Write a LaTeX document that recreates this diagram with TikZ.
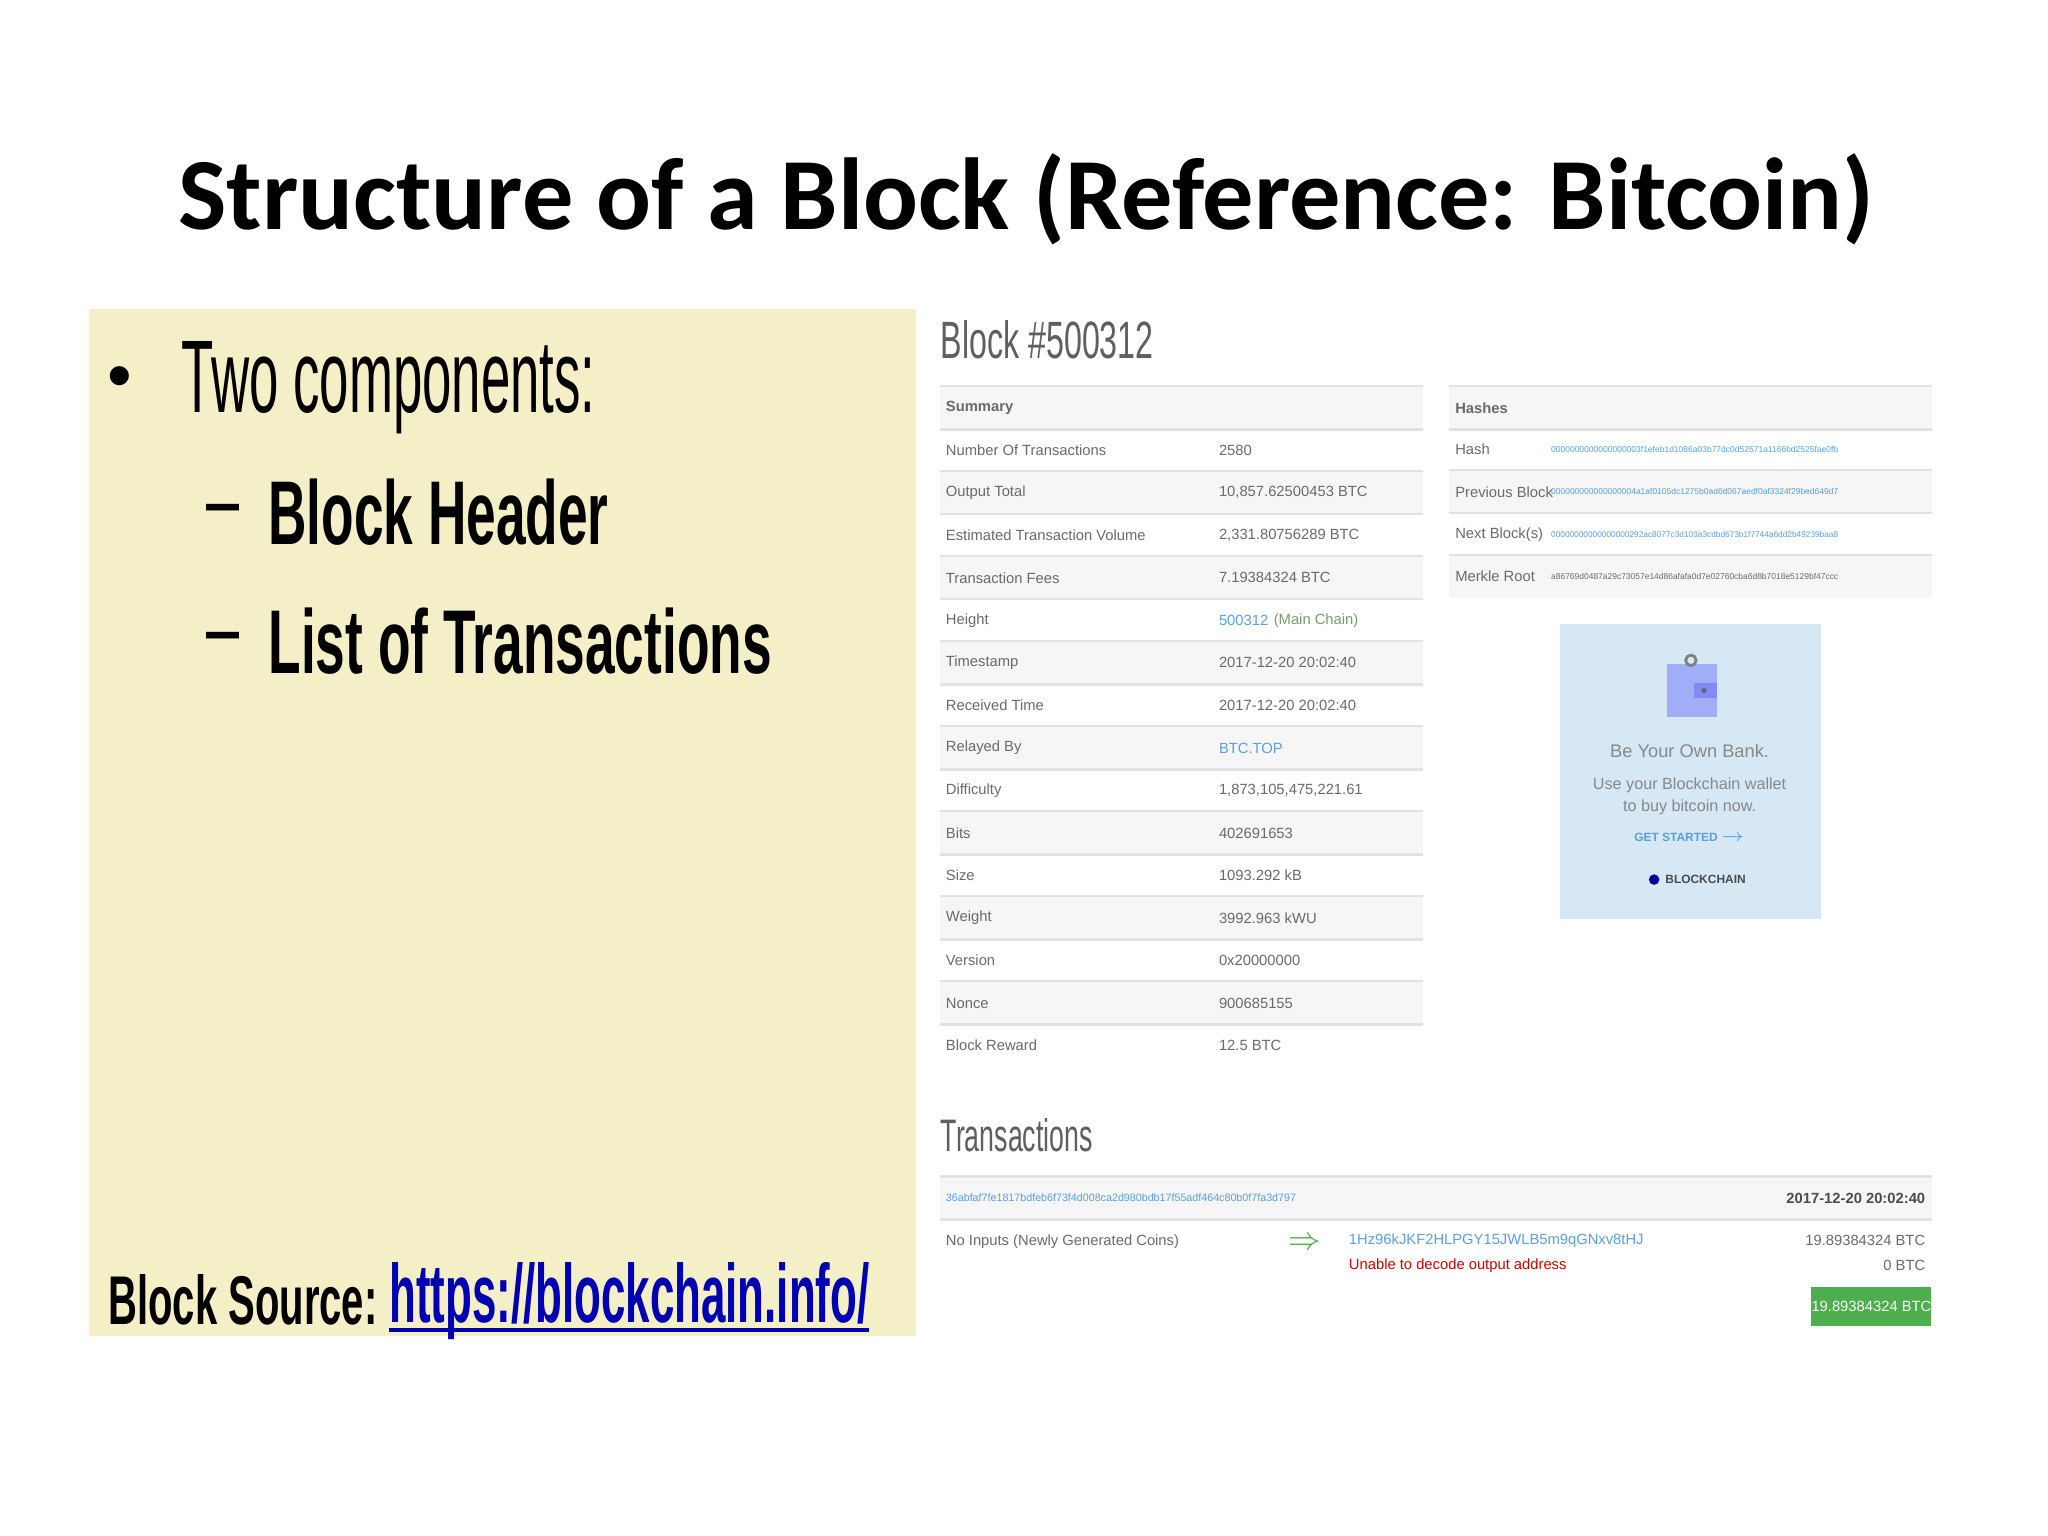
\documentclass[tikz,border=0pt]{standalone}
\usepackage{fontspec}
\setmainfont{Liberation Sans}
\newfontfamily\carl{Carlito}
\definecolor{ylw}{HTML}{F5EFC7}
\definecolor{rowg}{HTML}{F6F6F6}
\definecolor{sep}{HTML}{E2E2E2}
\definecolor{txt}{HTML}{6A6A6A}
\definecolor{lnk}{HTML}{5A9FE0}
\definecolor{adb}{HTML}{D5E8F4}
\definecolor{grn}{HTML}{4CAE4C}
\definecolor{mainc}{HTML}{7A9A6A}
\begin{document}
\begin{tikzpicture}[x=0.013128cm,y=-0.013128cm,
  sm/.style={font=\fontsize{4.2}{5}\selectfont,text=txt,inner sep=0pt,anchor=west},
  smb/.style={sm,font=\fontsize{4.2}{5}\selectfont\bfseries},
  big/.style={inner sep=0pt,anchor=west}]
\useasboundingbox (0,0) rectangle (1560,1170);
\fill[white] (0,0) rectangle (1560,1170);
% title
\node (title) [inner sep=0pt] at (782,152) {\resizebox{16.95cm}{!}{\carl\bfseries Structure of a Block (Reference: Bitcoin)}};
% yellow panel
\fill[ylw] (68,235) rectangle (698,1018);
\node (bul) [inner sep=0pt] at (91,292) {\fontsize{20}{20}\selectfont\textbullet};
\node (two) [big] at (138,295) {\resizebox{4.135cm}{0.71cm}{Two components:}};
\node (d1) [big] at (155,392) {\resizebox{0.37cm}{!}{\bfseries --}};
\node (bh) [big] at (204,390) {\resizebox{3.40cm}{0.656cm}{\bfseries Block Header}};
\node (d2) [big] at (155,490) {\resizebox{0.37cm}{!}{\bfseries --}};
\node (lt) [big] at (204,488) {\resizebox{5.03cm}{0.656cm}{\bfseries List of Transactions}};
\node (bs) [big] at (82,990) {\resizebox{2.69cm}{0.5cm}{\bfseries Block Source:}};
\node (url) [big] at (296,991) {\resizebox{4.80cm}{0.6cm}{\bfseries\color{blue!70!black}https://blockchain.info/}};
\draw[blue!70!black,line width=1.2pt] (296,1013) -- (662,1013);
% block header
\node (blk) [big] at (716,259) {\resizebox{2.13cm}{0.38cm}{\color{txt!90!black}Block \#500312}};
% summary table
\fill[rowg] (716,295) rectangle (1084,327);
\draw[sep,line width=0.8pt] (716,294) -- (1084,294);
\node (sumh) [smb] at (720,311) {Summary};
\foreach \i/\lab/\val [count=\n] in {
 1/Number Of Transactions/2580,
 2/Output Total/{10,857.62500453 BTC},
 3/Estimated Transaction Volume/{2,331.80756289 BTC},
 4/Transaction Fees/7.19384324 BTC,
 5/Height/{},
 6/Timestamp/2017-12-20 20:02:40,
 7/Received Time/2017-12-20 20:02:40,
 8/Relayed By/{},
 9/Difficulty/{1,873,105,475,221.61},
 10/Bits/402691653,
 11/Size/1093.292 kB,
 12/Weight/3992.963 kWU,
 13/Version/0x20000000,
 14/Nonce/900685155,
 15/Block Reward/12.5 BTC}{
  \pgfmathsetmacro\yc{310.5+32.4*\i}
  \ifodd\i\else\fill[rowg] (716,\yc-16) rectangle (1084,\yc+16);\fi
  \ifnum\i<15 \draw[sep,line width=0.8pt] (716,\yc+16.2) -- (1084,\yc+16.2);\fi
  \node (sl\i) [sm] at (720,\yc) {\lab};
  \node (sv\i) [sm] at (928,\yc) {\val};
}
\draw[sep,line width=0.8pt] (716,327) -- (1084,327);
\node (hgt) [sm,text=lnk] at (928,472.5) {500312};
\node (mc) [sm,text=mainc,anchor=west] at (hgt.east) {\ (Main Chain)};
\node (rel) [sm,text=lnk] at (928,569.7) {BTC.TOP};
% hashes table
\fill[rowg] (1104,295) rectangle (1472,327);
\draw[sep,line width=0.8pt] (1104,294) -- (1472,294);
\draw[sep,line width=0.8pt] (1104,327) -- (1472,327);
\node (hh) [smb] at (1108,311) {Hashes};
\foreach \i/\lab/\val/\c in {
 1/Hash/0000000000000000003f1efeb1d1086a03b77dc0d52571a1166bd2525fae0fb/lnk,
 2/Previous Block/000000000000000004a1af0105dc1275b0ad6d067aedf0af3324f29bed649d7/lnk,
 3/Next Block(s)/00000000000000000292ac8077c3d103a3cdbd673b1f7744a6dd2b49239baa8/lnk,
 4/Merkle Root/a86769d0487a29c73057e14d86afafa0d7e02760cba6d8b7018e5129bf47ccc/txt}{
  \pgfmathsetmacro\yc{310+32.3*\i}
  \ifodd\i\else\fill[rowg] (1104,\yc-16) rectangle (1472,\yc+16);\fi
  \ifnum\i<4 \draw[sep,line width=0.8pt] (1104,\yc+16.2) -- (1472,\yc+16.2);\fi
  \node (hl\i) [sm] at (1108,\yc) {\lab};
  \node (hv\i) [sm,text=\c] at (1181,\yc) {\resizebox{2.87cm}{!}{\val}};
}
% ad box
\fill[adb] (1188,475) rectangle (1387,700);
\fill[blue!25!adb] (1270,506) rectangle (1308,546);
\fill[blue!40!adb] (1290,520) rectangle (1308,532);
\fill[black!60] (1298,526) circle (2);
\draw[black!50,line width=0.8pt] (1288,503) circle (4);
\node (ad1) [sm,anchor=center,text=txt!80,font=\fontsize{5.2}{6}\selectfont] at (1287,572) {Be Your Own Bank.};
\node (ad2) [sm,anchor=center,text=txt!80,font=\fontsize{4.6}{5}\selectfont] at (1287,598) {Use your Blockchain wallet};
\node (ad3) [sm,anchor=center,text=txt!80,font=\fontsize{4.6}{5}\selectfont] at (1287,615) {to buy bitcoin now.};
\node (ad4) [smb,anchor=center,text=lnk,font=\fontsize{3.4}{4}\selectfont\bfseries] at (1287,638) {GET STARTED $\rightarrow$};
\fill[blue!60!black] (1260,670) circle (4);
\node (ad5) [smb,text=black!70,font=\fontsize{3.4}{4}\selectfont\bfseries] at (1268,670) {BLOCKCHAIN};
% transactions
\node (tx) [big] at (716,865) {\resizebox{1.52cm}{0.33cm}{\color{txt!90!black}Transactions}};
\draw[sep,line width=0.8pt] (716,896) -- (1472,896);
\fill[rowg] (716,898) rectangle (1472,928);
\draw[sep,line width=0.8pt] (716,929) -- (1472,929);
\node (txh) [sm,text=lnk] at (720,912) {\resizebox{3.5cm}{!}{36abfaf7fe1817bdfeb6f73f4d008ca2d980bdb17f55adf464c80b0f7fa3d797}};
\node (txd) [smb,text=black!70,anchor=east] at (1467,913) {2017-12-20 20:02:40};
\node (noin) [sm] at (720,946) {No Inputs (Newly Generated Coins)};
\node (arr) [inner sep=0pt,text=grn] at (994,947) {\fontsize{9}{9}\selectfont$\Rightarrow$};
\node (addr) [sm,text=lnk] at (1027,945) {1Hz96kJKF2HLPGY15JWLB5m9qGNxv8tHJ};
\node (bad) [sm,text=red!80!black] at (1027,964) {Unable to decode output address};
\node (amt1) [sm,anchor=east] at (1467,945) {19.89384324 BTC};
\node (amt2) [sm,anchor=east] at (1467,964) {0 BTC};
\node (btn) [fill=grn,text=white,minimum width=1.2cm,minimum height=0.39cm,inner sep=0pt,font=\fontsize{4.2}{5}\selectfont] at (1425.5,995) {19.89384324 BTC};
\end{tikzpicture}
\end{document}
